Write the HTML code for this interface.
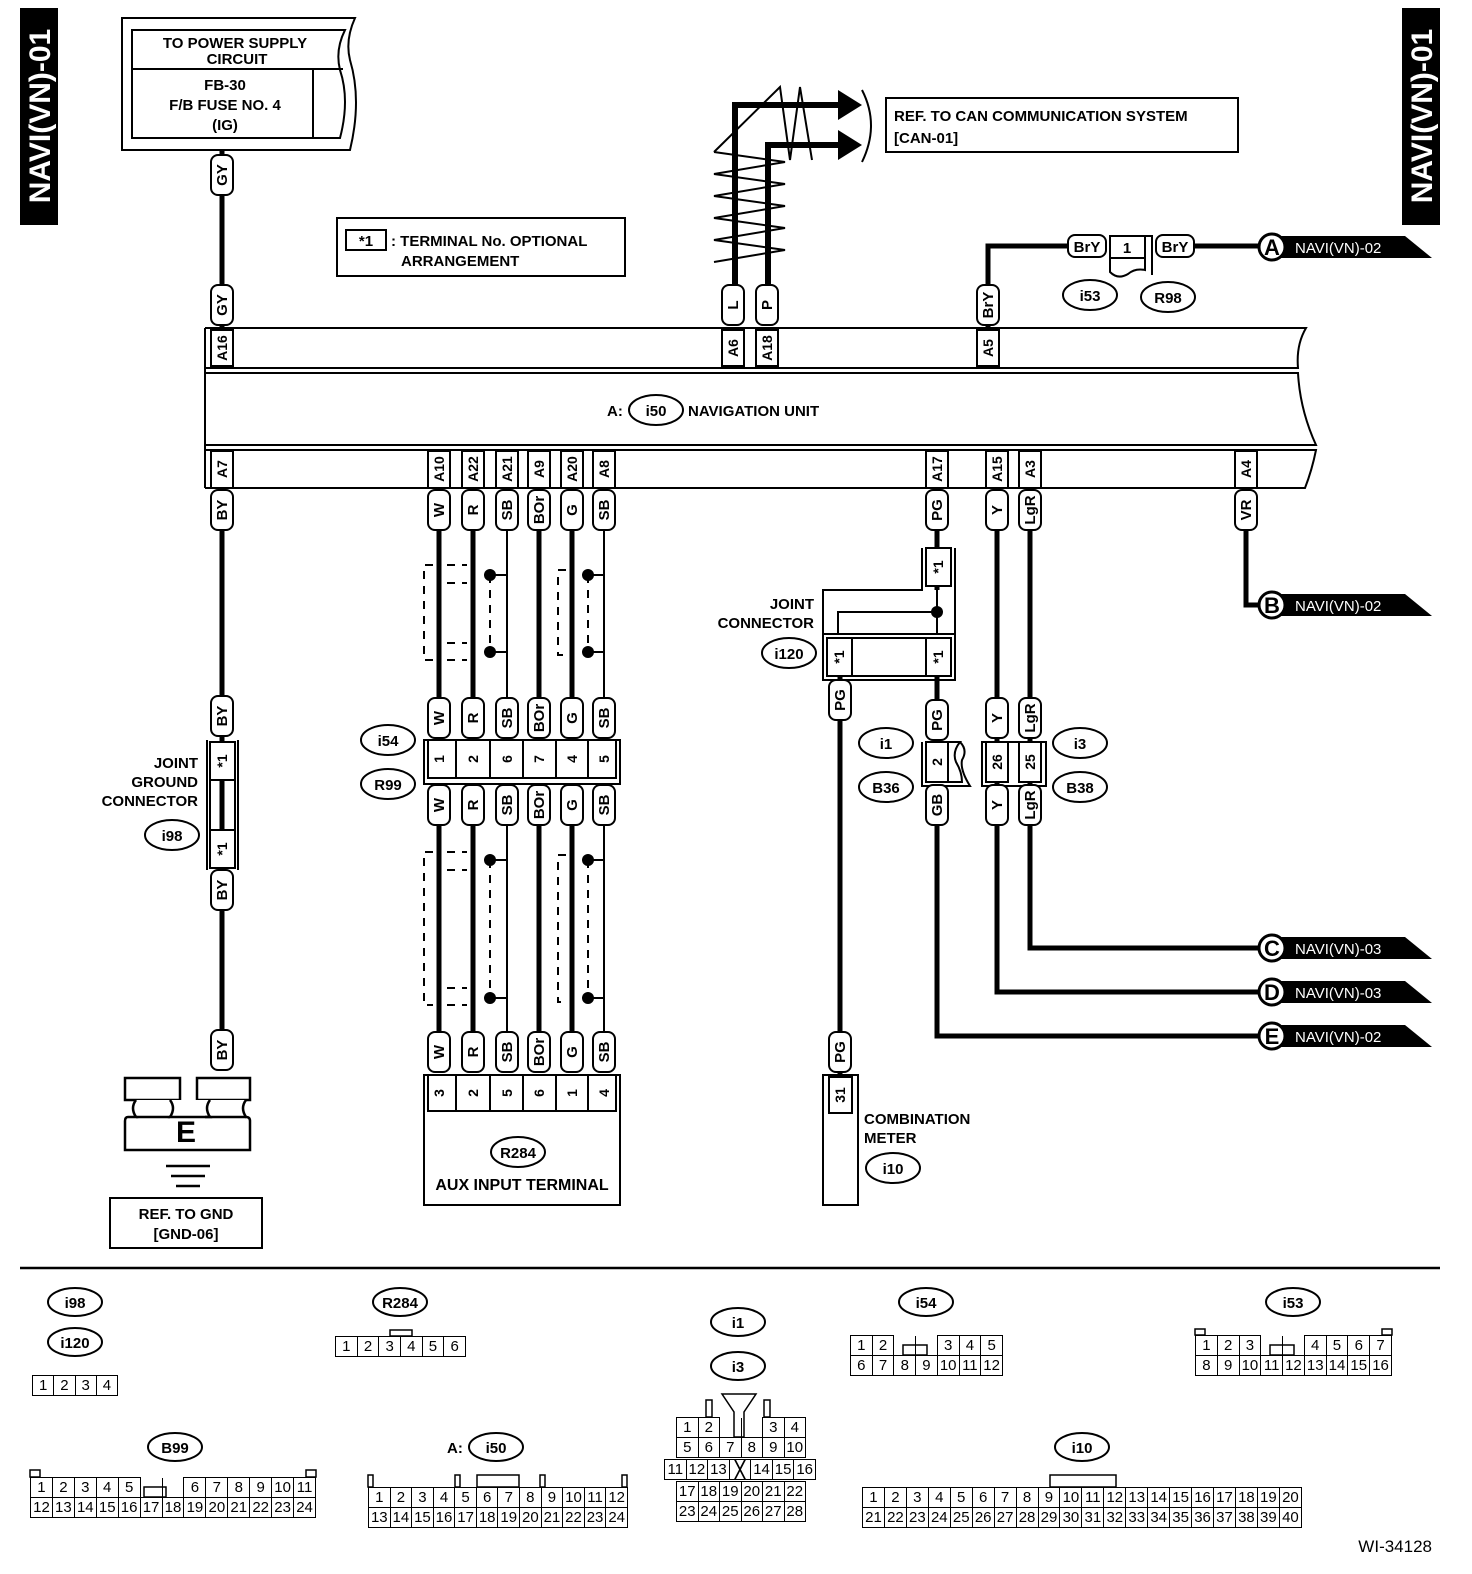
<!DOCTYPE html>
<html><head><meta charset="utf-8">
<style>
html,body{margin:0;padding:0;background:#fff}
#w{position:relative;width:1472px;height:1574px;overflow:hidden;font-family:"Liberation Sans",Arial,sans-serif}
svg{position:absolute;left:0;top:0}
svg text{font-family:"Liberation Sans",Arial,sans-serif;font-weight:bold;fill:#000}
.p rect{fill:#fff;stroke:#000;stroke-width:2}
.p text{font-size:15px;text-anchor:middle}
.t text{font-size:14px;text-anchor:middle}
.e{fill:#fff;stroke:#000;stroke-width:2}
.lb{font-size:15px}
.ct{font-size:15px;text-anchor:middle}
table{position:absolute;border-collapse:collapse;table-layout:fixed;font-family:"Liberation Sans",Arial,sans-serif;font-size:15px}
td{border:1.5px solid #000;padding:0;text-align:center;height:19px;line-height:19px;overflow:hidden}
td.g{border-top:none}
</style></head><body><div id="w">
<svg width="1472" height="1574" viewBox="0 0 1472 1574">
<rect x="20" y="8" width="38" height="217" fill="#000"/>
<text transform="translate(50,116) rotate(-90)" text-anchor="middle" style="font-size:30px;fill:#fff">NAVI(VN)-01</text>
<rect x="1402" y="8" width="38" height="217" fill="#000"/>
<text transform="translate(1432,116) rotate(-90)" text-anchor="middle" style="font-size:30px;fill:#fff">NAVI(VN)-01</text>

<path d="M122 18 H355 Q345 40 350 60 Q362 100 350 150 H122 Z" fill="none" stroke="#000" stroke-width="2"/>
<path d="M132 30 H345 Q335 50 340 70 Q350 100 340 138 H132 Z" fill="none" stroke="#000" stroke-width="2"/>
<line x1="132" y1="69" x2="343" y2="69" stroke="#000" stroke-width="2"/>
<line x1="313" y1="69" x2="313" y2="138" stroke="#000" stroke-width="2"/>
<text x="235" y="48" class="ct">TO POWER SUPPLY</text>
<text x="237" y="64" class="ct">CIRCUIT</text>
<text x="225" y="90" class="ct">FB-30</text>
<text x="225" y="110" class="ct">F/B FUSE NO. 4</text>
<text x="225" y="130" class="ct">(IG)</text>

<rect x="337" y="218" width="288" height="58" fill="none" stroke="#000" stroke-width="2"/>
<rect x="346" y="230" width="40" height="20" fill="none" stroke="#000" stroke-width="2"/>
<text x="366" y="246" class="ct">*1</text>
<text x="391" y="246" class="lb">: TERMINAL No. OPTIONAL</text>
<text x="401" y="266" class="lb">ARRANGEMENT</text>

<rect x="886" y="98" width="352" height="54" fill="none" stroke="#000" stroke-width="2"/>
<text x="894" y="121" class="lb">REF. TO CAN COMMUNICATION SYSTEM</text>
<text x="894" y="143" class="lb">[CAN-01]</text>

<g stroke="#000" fill="none">
<polyline points="735,288 735,105 842,105" stroke-width="6"/>
<polyline points="768,288 768,145 842,145" stroke-width="6"/>
<polyline stroke-width="2" points="714,262 785,250 714,240 785,228 714,218 785,206 714,196 785,184 714,174 785,162 714,152"/>
<polyline stroke-width="2" points="714,152 780,87 790,160 800,87 812,160"/>
<path d="M862 90 Q880 125 862 162" stroke-width="2"/>
</g>
<polygon points="838,90 862,105 838,120" fill="#000"/>
<polygon points="838,130 862,145 838,160" fill="#000"/>

<g stroke="#000" fill="none" stroke-width="5">
<line x1="222" y1="150" x2="222" y2="330"/>
<polyline points="988,330 988,246 1070,246"/>
<line x1="1195" y1="246" x2="1258" y2="246"/>
<line x1="222" y1="490" x2="222" y2="1040"/>
<line x1="439" y1="490" x2="439" y2="1040"/>
<line x1="473" y1="490" x2="473" y2="1040"/>
<line x1="539" y1="490" x2="539" y2="1040"/>
<line x1="572" y1="490" x2="572" y2="1040"/>
<line x1="937" y1="490" x2="937" y2="590"/>
<line x1="937" y1="676" x2="937" y2="742"/>
<polyline points="937,825 937,1036 1258,1036"/>
<line x1="840" y1="676" x2="840" y2="1075"/>
<polyline points="997,490 997,992 1258,992"/>
<polyline points="1030,490 1030,948 1258,948"/>
<polyline points="1246,490 1246,605 1258,605"/>
</g>
<g stroke="#000" fill="none" stroke-width="2">
<polyline points="507,490 507,575 490,575"/><polyline points="507,575 507,652 490,652"/><line x1="507" y1="652" x2="507" y2="700"/>
<polyline points="604,490 604,575 588,575"/><polyline points="604,575 604,652 588,652"/><line x1="604" y1="652" x2="604" y2="700"/>
<polyline points="507,825 507,860 490,860"/><polyline points="507,860 507,998 490,998"/><line x1="507" y1="998" x2="507" y2="1032"/>
<polyline points="604,825 604,860 588,860"/><polyline points="604,860 604,998 588,998"/><line x1="604" y1="998" x2="604" y2="1032"/>
</g>
<g stroke="#000" fill="none" stroke-width="2" stroke-dasharray="8,7">
<polyline points="433,565 424,565 424,660 433,660"/>
<line x1="447" y1="565" x2="467" y2="565"/><line x1="447" y1="583" x2="467" y2="583"/>
<line x1="447" y1="643" x2="467" y2="643"/><line x1="447" y1="660" x2="467" y2="660"/>
<line x1="490" y1="575" x2="490" y2="652"/>
<polyline points="566,570 558,570 558,655 566,655"/>
<line x1="588" y1="575" x2="588" y2="652"/>
<polyline points="433,852 424,852 424,1005 433,1005"/>
<line x1="447" y1="852" x2="467" y2="852"/><line x1="447" y1="870" x2="467" y2="870"/>
<line x1="447" y1="988" x2="467" y2="988"/><line x1="447" y1="1005" x2="467" y2="1005"/>
<line x1="490" y1="860" x2="490" y2="998"/>
<polyline points="566,855 558,855 558,1002 566,1002"/>
<line x1="588" y1="860" x2="588" y2="998"/>
</g>
<g fill="#000">
<circle cx="490" cy="575" r="6"/><circle cx="490" cy="652" r="6"/><circle cx="588" cy="575" r="6"/><circle cx="588" cy="652" r="6"/>
<circle cx="490" cy="860" r="6"/><circle cx="490" cy="998" r="6"/><circle cx="588" cy="860" r="6"/><circle cx="588" cy="998" r="6"/>
<circle cx="937" cy="612" r="6"/>
</g>

<g stroke="#000" stroke-width="2" fill="none">
<path d="M205 328 H1306 Q1296 345 1298 368 H205"/>
<path d="M205 373 H1298 Q1300 410 1316 445 H205 Z"/>
<path d="M205 450 H1316 Q1312 470 1305 488 H205"/>
<line x1="205" y1="328" x2="205" y2="488"/>
</g>
<text x="607" y="416" class="lb">A:</text>
<ellipse cx="656" cy="410" rx="27" ry="15" class="e"/><text x="656" y="416" class="ct">i50</text>
<text x="688" y="416" class="lb">NAVIGATION UNIT</text>

<g class="t" stroke="#000" stroke-width="2">
<g transform="translate(222,348)"><rect x="-11" y="-18" width="22" height="36" fill="#fff"/><text transform="rotate(-90)" y="5" stroke="none">A16</text></g>
<g transform="translate(733,348)"><rect x="-11" y="-18" width="22" height="36" fill="#fff"/><text transform="rotate(-90)" y="5" stroke="none">A6</text></g>
<g transform="translate(767,348)"><rect x="-11" y="-18" width="22" height="36" fill="#fff"/><text transform="rotate(-90)" y="5" stroke="none">A18</text></g>
<g transform="translate(988,348)"><rect x="-11" y="-18" width="22" height="36" fill="#fff"/><text transform="rotate(-90)" y="5" stroke="none">A5</text></g>
<g transform="translate(222,469)"><rect x="-11" y="-18" width="22" height="37" fill="#fff"/><text transform="rotate(-90)" y="5" stroke="none">A7</text></g>
<g transform="translate(439,469)"><rect x="-11" y="-18" width="22" height="37" fill="#fff"/><text transform="rotate(-90)" y="5" stroke="none">A10</text></g>
<g transform="translate(473,469)"><rect x="-11" y="-18" width="22" height="37" fill="#fff"/><text transform="rotate(-90)" y="5" stroke="none">A22</text></g>
<g transform="translate(507,469)"><rect x="-11" y="-18" width="22" height="37" fill="#fff"/><text transform="rotate(-90)" y="5" stroke="none">A21</text></g>
<g transform="translate(539,469)"><rect x="-11" y="-18" width="22" height="37" fill="#fff"/><text transform="rotate(-90)" y="5" stroke="none">A9</text></g>
<g transform="translate(572,469)"><rect x="-11" y="-18" width="22" height="37" fill="#fff"/><text transform="rotate(-90)" y="5" stroke="none">A20</text></g>
<g transform="translate(604,469)"><rect x="-11" y="-18" width="22" height="37" fill="#fff"/><text transform="rotate(-90)" y="5" stroke="none">A8</text></g>
<g transform="translate(937,469)"><rect x="-11" y="-18" width="22" height="37" fill="#fff"/><text transform="rotate(-90)" y="5" stroke="none">A17</text></g>
<g transform="translate(997,469)"><rect x="-11" y="-18" width="22" height="37" fill="#fff"/><text transform="rotate(-90)" y="5" stroke="none">A15</text></g>
<g transform="translate(1030,469)"><rect x="-11" y="-18" width="22" height="37" fill="#fff"/><text transform="rotate(-90)" y="5" stroke="none">A3</text></g>
<g transform="translate(1246,469)"><rect x="-11" y="-18" width="22" height="37" fill="#fff"/><text transform="rotate(-90)" y="5" stroke="none">A4</text></g>
</g>

<g stroke="#000" stroke-width="2" fill="#fff">
<rect x="424" y="740" width="196" height="44"/>
<rect x="428" y="740" width="188" height="38"/>
<rect x="424" y="1075" width="196" height="130"/>
<rect x="428" y="1075" width="188" height="36"/>
<line x1="207" y1="740" x2="207" y2="870"/><line x1="238" y1="740" x2="238" y2="870"/>
<rect x="210" y="742" width="25" height="38"/><rect x="210" y="830" width="25" height="38"/>
<line x1="222" y1="780" x2="222" y2="830"/>
<line x1="210" y1="780" x2="210" y2="830"/><line x1="235" y1="780" x2="235" y2="830"/>
<polyline points="922,548 922,590 823,590 823,680 955,680 955,548" fill="none"/>
<rect x="926" y="548" width="25" height="38"/>
<line x1="823" y1="634" x2="955" y2="634"/>
<polyline points="838,634 838,612 937,612" fill="none"/>
<line x1="937" y1="590" x2="937" y2="634"/>
<rect x="827" y="638" width="25" height="38"/><rect x="926" y="638" width="25" height="38"/>
<line x1="852" y1="638" x2="926" y2="638"/><line x1="852" y1="676" x2="926" y2="676"/>
<path d="M922 742 V786 H970 Q960 770 962 760 Q968 750 960 742" fill="none"/>
<rect x="926" y="742" width="22" height="40"/>
<path d="M948 742 H960 Q952 752 956 762 Q962 772 962 782 H948 Z"/>
<rect x="982" y="742" width="64" height="44" fill="none"/>
<rect x="986" y="742" width="22" height="40"/><rect x="1019" y="742" width="22" height="40"/>
<rect x="823" y="1075" width="35" height="130"/>
<rect x="829" y="1077" width="23" height="36"/>
<path d="M1110 236 H1152 V275" fill="none"/>
<path d="M1110 236 H1145 V270 Q1135 268 1128 274 Q1118 280 1110 272 Z"/>
<line x1="1110" y1="258" x2="1145" y2="258"/>
</g>
<g class="t">
<text transform="translate(439,759) rotate(-90)" y="5">1</text>
<text transform="translate(473,759) rotate(-90)" y="5">2</text>
<text transform="translate(507,759) rotate(-90)" y="5">6</text>
<text transform="translate(539,759) rotate(-90)" y="5">7</text>
<text transform="translate(572,759) rotate(-90)" y="5">4</text>
<text transform="translate(604,759) rotate(-90)" y="5">5</text>
<text transform="translate(439,1093) rotate(-90)" y="5">3</text>
<text transform="translate(473,1093) rotate(-90)" y="5">2</text>
<text transform="translate(507,1093) rotate(-90)" y="5">5</text>
<text transform="translate(539,1093) rotate(-90)" y="5">6</text>
<text transform="translate(572,1093) rotate(-90)" y="5">1</text>
<text transform="translate(604,1093) rotate(-90)" y="5">4</text>
<text transform="translate(222,761) rotate(-90)" y="5">*1</text>
<text transform="translate(222,849) rotate(-90)" y="5">*1</text>
<text transform="translate(938,567) rotate(-90)" y="5">*1</text>
<text transform="translate(839,657) rotate(-90)" y="5">*1</text>
<text transform="translate(938,657) rotate(-90)" y="5">*1</text>
<text transform="translate(937,762) rotate(-90)" y="5">2</text>
<text transform="translate(997,762) rotate(-90)" y="5">26</text>
<text transform="translate(1030,762) rotate(-90)" y="5">25</text>
<text transform="translate(840,1095) rotate(-90)" y="5">31</text>
</g>
<g stroke="#000" stroke-width="2">
<line x1="456" y1="740" x2="456" y2="778"/><line x1="490" y1="740" x2="490" y2="778"/><line x1="523" y1="740" x2="523" y2="778"/><line x1="556" y1="740" x2="556" y2="778"/><line x1="588" y1="740" x2="588" y2="778"/>
<line x1="456" y1="1075" x2="456" y2="1111"/><line x1="490" y1="1075" x2="490" y2="1111"/><line x1="523" y1="1075" x2="523" y2="1111"/><line x1="556" y1="1075" x2="556" y2="1111"/><line x1="588" y1="1075" x2="588" y2="1111"/>
</g>
<text x="1127" y="253" class="ct">1</text>

<g class="p">
<g transform="translate(222,175)"><rect x="-11" y="-20" width="22" height="40" rx="7"/><text transform="rotate(-90)" y="5">GY</text></g>
<g transform="translate(222,305)"><rect x="-11" y="-20" width="22" height="40" rx="7"/><text transform="rotate(-90)" y="5">GY</text></g>
<g transform="translate(733,305)"><rect x="-11" y="-20" width="22" height="40" rx="7"/><text transform="rotate(-90)" y="5">L</text></g>
<g transform="translate(767,305)"><rect x="-11" y="-20" width="22" height="40" rx="7"/><text transform="rotate(-90)" y="5">P</text></g>
<g transform="translate(988,305)"><rect x="-11" y="-20" width="22" height="40" rx="7"/><text transform="rotate(-90)" y="5">BrY</text></g>
<g transform="translate(1087,246)"><rect x="-19" y="-11" width="38" height="22" rx="7"/><text y="6">BrY</text></g>
<g transform="translate(1175,246)"><rect x="-19" y="-11" width="38" height="22" rx="7"/><text y="6">BrY</text></g>

<g transform="translate(222,510)"><rect x="-11" y="-20" width="22" height="40" rx="7"/><text transform="rotate(-90)" y="5">BY</text></g>
<g transform="translate(439,510)"><rect x="-11" y="-20" width="22" height="40" rx="7"/><text transform="rotate(-90)" y="5">W</text></g>
<g transform="translate(473,510)"><rect x="-11" y="-20" width="22" height="40" rx="7"/><text transform="rotate(-90)" y="5">R</text></g>
<g transform="translate(507,510)"><rect x="-11" y="-20" width="22" height="40" rx="7"/><text transform="rotate(-90)" y="5">SB</text></g>
<g transform="translate(539,510)"><rect x="-11" y="-20" width="22" height="40" rx="7"/><text transform="rotate(-90)" y="5">BOr</text></g>
<g transform="translate(572,510)"><rect x="-11" y="-20" width="22" height="40" rx="7"/><text transform="rotate(-90)" y="5">G</text></g>
<g transform="translate(604,510)"><rect x="-11" y="-20" width="22" height="40" rx="7"/><text transform="rotate(-90)" y="5">SB</text></g>
<g transform="translate(937,510)"><rect x="-11" y="-20" width="22" height="40" rx="7"/><text transform="rotate(-90)" y="5">PG</text></g>
<g transform="translate(997,510)"><rect x="-11" y="-20" width="22" height="40" rx="7"/><text transform="rotate(-90)" y="5">Y</text></g>
<g transform="translate(1030,510)"><rect x="-11" y="-20" width="22" height="40" rx="7"/><text transform="rotate(-90)" y="5">LgR</text></g>
<g transform="translate(1246,510)"><rect x="-11" y="-20" width="22" height="40" rx="7"/><text transform="rotate(-90)" y="5">VR</text></g>

<g transform="translate(222,716)"><rect x="-11" y="-20" width="22" height="40" rx="7"/><text transform="rotate(-90)" y="5">BY</text></g>
<g transform="translate(439,718)"><rect x="-11" y="-20" width="22" height="40" rx="7"/><text transform="rotate(-90)" y="5">W</text></g>
<g transform="translate(473,718)"><rect x="-11" y="-20" width="22" height="40" rx="7"/><text transform="rotate(-90)" y="5">R</text></g>
<g transform="translate(507,718)"><rect x="-11" y="-20" width="22" height="40" rx="7"/><text transform="rotate(-90)" y="5">SB</text></g>
<g transform="translate(539,718)"><rect x="-11" y="-20" width="22" height="40" rx="7"/><text transform="rotate(-90)" y="5">BOr</text></g>
<g transform="translate(572,718)"><rect x="-11" y="-20" width="22" height="40" rx="7"/><text transform="rotate(-90)" y="5">G</text></g>
<g transform="translate(604,718)"><rect x="-11" y="-20" width="22" height="40" rx="7"/><text transform="rotate(-90)" y="5">SB</text></g>
<g transform="translate(840,700)"><rect x="-11" y="-20" width="22" height="40" rx="7"/><text transform="rotate(-90)" y="5">PG</text></g>
<g transform="translate(937,720)"><rect x="-11" y="-20" width="22" height="40" rx="7"/><text transform="rotate(-90)" y="5">PG</text></g>
<g transform="translate(997,718)"><rect x="-11" y="-20" width="22" height="40" rx="7"/><text transform="rotate(-90)" y="5">Y</text></g>
<g transform="translate(1030,718)"><rect x="-11" y="-20" width="22" height="40" rx="7"/><text transform="rotate(-90)" y="5">LgR</text></g>

<g transform="translate(439,805)"><rect x="-11" y="-20" width="22" height="40" rx="7"/><text transform="rotate(-90)" y="5">W</text></g>
<g transform="translate(473,805)"><rect x="-11" y="-20" width="22" height="40" rx="7"/><text transform="rotate(-90)" y="5">R</text></g>
<g transform="translate(507,805)"><rect x="-11" y="-20" width="22" height="40" rx="7"/><text transform="rotate(-90)" y="5">SB</text></g>
<g transform="translate(539,805)"><rect x="-11" y="-20" width="22" height="40" rx="7"/><text transform="rotate(-90)" y="5">BOr</text></g>
<g transform="translate(572,805)"><rect x="-11" y="-20" width="22" height="40" rx="7"/><text transform="rotate(-90)" y="5">G</text></g>
<g transform="translate(604,805)"><rect x="-11" y="-20" width="22" height="40" rx="7"/><text transform="rotate(-90)" y="5">SB</text></g>
<g transform="translate(937,805)"><rect x="-11" y="-20" width="22" height="40" rx="7"/><text transform="rotate(-90)" y="5">GB</text></g>
<g transform="translate(997,805)"><rect x="-11" y="-20" width="22" height="40" rx="7"/><text transform="rotate(-90)" y="5">Y</text></g>
<g transform="translate(1030,805)"><rect x="-11" y="-20" width="22" height="40" rx="7"/><text transform="rotate(-90)" y="5">LgR</text></g>
<g transform="translate(222,890)"><rect x="-11" y="-20" width="22" height="40" rx="7"/><text transform="rotate(-90)" y="5">BY</text></g>

<g transform="translate(222,1050)"><rect x="-11" y="-20" width="22" height="40" rx="7"/><text transform="rotate(-90)" y="5">BY</text></g>
<g transform="translate(439,1052)"><rect x="-11" y="-20" width="22" height="40" rx="7"/><text transform="rotate(-90)" y="5">W</text></g>
<g transform="translate(473,1052)"><rect x="-11" y="-20" width="22" height="40" rx="7"/><text transform="rotate(-90)" y="5">R</text></g>
<g transform="translate(507,1052)"><rect x="-11" y="-20" width="22" height="40" rx="7"/><text transform="rotate(-90)" y="5">SB</text></g>
<g transform="translate(539,1052)"><rect x="-11" y="-20" width="22" height="40" rx="7"/><text transform="rotate(-90)" y="5">BOr</text></g>
<g transform="translate(572,1052)"><rect x="-11" y="-20" width="22" height="40" rx="7"/><text transform="rotate(-90)" y="5">G</text></g>
<g transform="translate(604,1052)"><rect x="-11" y="-20" width="22" height="40" rx="7"/><text transform="rotate(-90)" y="5">SB</text></g>
<g transform="translate(840,1052)"><rect x="-11" y="-20" width="22" height="40" rx="7"/><text transform="rotate(-90)" y="5">PG</text></g>
</g>

<text x="198" y="768" class="lb" text-anchor="end">JOINT</text>
<text x="198" y="787" class="lb" text-anchor="end">GROUND</text>
<text x="198" y="806" class="lb" text-anchor="end">CONNECTOR</text>
<text x="814" y="609" class="lb" text-anchor="end">JOINT</text>
<text x="814" y="628" class="lb" text-anchor="end">CONNECTOR</text>
<text x="864" y="1124" class="lb">COMBINATION</text>
<text x="864" y="1143" class="lb">METER</text>
<text x="522" y="1190" class="ct" style="font-size:16px">AUX INPUT TERMINAL</text>
<g>
<ellipse cx="1090" cy="295" rx="27" ry="15" class="e"/><text x="1090" y="301" class="ct">i53</text>
<ellipse cx="1168" cy="297" rx="27" ry="15" class="e"/><text x="1168" y="303" class="ct">R98</text>
<ellipse cx="172" cy="835" rx="27" ry="15" class="e"/><text x="172" y="841" class="ct">i98</text>
<ellipse cx="388" cy="740" rx="27" ry="15" class="e"/><text x="388" y="746" class="ct">i54</text>
<ellipse cx="388" cy="784" rx="27" ry="15" class="e"/><text x="388" y="790" class="ct">R99</text>
<ellipse cx="789" cy="653" rx="27" ry="15" class="e"/><text x="789" y="659" class="ct">i120</text>
<ellipse cx="886" cy="743" rx="27" ry="15" class="e"/><text x="886" y="749" class="ct">i1</text>
<ellipse cx="886" cy="787" rx="27" ry="15" class="e"/><text x="886" y="793" class="ct">B36</text>
<ellipse cx="1080" cy="743" rx="27" ry="15" class="e"/><text x="1080" y="749" class="ct">i3</text>
<ellipse cx="1080" cy="787" rx="27" ry="15" class="e"/><text x="1080" y="793" class="ct">B38</text>
<ellipse cx="518" cy="1152" rx="27" ry="15" class="e"/><text x="518" y="1158" class="ct">R284</text>
<ellipse cx="893" cy="1168" rx="27" ry="15" class="e"/><text x="893" y="1174" class="ct">i10</text>
</g>

<g>
<polygon points="1272,236 1405,236 1432,258 1272,258" fill="#000"/>
<circle cx="1272" cy="247" r="13" fill="#fff" stroke="#000" stroke-width="3"/><text x="1272" y="255" class="ct" style="font-size:22px">A</text>
<text x="1295" y="253" style="font-size:15px;font-weight:normal;fill:#fff">NAVI(VN)-02</text>
<polygon points="1272,594 1405,594 1432,616 1272,616" fill="#000"/>
<circle cx="1272" cy="605" r="13" fill="#fff" stroke="#000" stroke-width="3"/><text x="1272" y="613" class="ct" style="font-size:22px">B</text>
<text x="1295" y="611" style="font-size:15px;font-weight:normal;fill:#fff">NAVI(VN)-02</text>
<polygon points="1272,937 1405,937 1432,959 1272,959" fill="#000"/>
<circle cx="1272" cy="948" r="13" fill="#fff" stroke="#000" stroke-width="3"/><text x="1272" y="956" class="ct" style="font-size:22px">C</text>
<text x="1295" y="954" style="font-size:15px;font-weight:normal;fill:#fff">NAVI(VN)-03</text>
<polygon points="1272,981 1405,981 1432,1003 1272,1003" fill="#000"/>
<circle cx="1272" cy="992" r="13" fill="#fff" stroke="#000" stroke-width="3"/><text x="1272" y="1000" class="ct" style="font-size:22px">D</text>
<text x="1295" y="998" style="font-size:15px;font-weight:normal;fill:#fff">NAVI(VN)-03</text>
<polygon points="1272,1025 1405,1025 1432,1047 1272,1047" fill="#000"/>
<circle cx="1272" cy="1036" r="13" fill="#fff" stroke="#000" stroke-width="3"/><text x="1272" y="1044" class="ct" style="font-size:22px">E</text>
<text x="1295" y="1042" style="font-size:15px;font-weight:normal;fill:#fff">NAVI(VN)-02</text>
</g>

<g stroke="#000" stroke-width="2.5" fill="#fff">
<rect x="125" y="1078" width="55" height="22"/><rect x="197" y="1078" width="53" height="22"/>
<path d="M136 1100 Q130 1108 136 1117 H128 Q125 1117 125 1121 V1150 H250 V1121 Q250 1117 246 1117 Q240 1108 246 1100"/>
<path d="M170 1100 Q176 1108 170 1117 H210 Q204 1108 210 1100"/>
<path d="M205 1117 H246"/>
<path d="M136 1117 H170"/>
</g>
<text x="186" y="1142" class="ct" style="font-size:30px">E</text>
<g stroke="#000" stroke-width="2.5">
<line x1="166" y1="1166" x2="210" y2="1166"/><line x1="171" y1="1176" x2="205" y2="1176"/><line x1="176" y1="1186" x2="200" y2="1186"/>
</g>
<rect x="110" y="1198" width="152" height="50" fill="none" stroke="#000" stroke-width="2"/>
<text x="186" y="1219" class="ct">REF. TO GND</text>
<text x="186" y="1239" class="ct">[GND-06]</text>

<line x1="20" y1="1268" x2="1440" y2="1268" stroke="#000" stroke-width="2.5"/>

<g>
<ellipse cx="75" cy="1302" rx="27" ry="14" class="e"/><text x="75" y="1308" class="ct">i98</text>
<ellipse cx="75" cy="1342" rx="27" ry="14" class="e"/><text x="75" y="1348" class="ct">i120</text>
<ellipse cx="400" cy="1302" rx="27" ry="14" class="e"/><text x="400" y="1308" class="ct">R284</text>
<ellipse cx="738" cy="1322" rx="27" ry="14" class="e"/><text x="738" y="1328" class="ct">i1</text>
<ellipse cx="738" cy="1366" rx="27" ry="14" class="e"/><text x="738" y="1372" class="ct">i3</text>
<ellipse cx="926" cy="1302" rx="27" ry="14" class="e"/><text x="926" y="1308" class="ct">i54</text>
<ellipse cx="1293" cy="1302" rx="27" ry="14" class="e"/><text x="1293" y="1308" class="ct">i53</text>
<ellipse cx="175" cy="1447" rx="27" ry="14" class="e"/><text x="175" y="1453" class="ct">B99</text>
<text x="447" y="1453" class="lb">A:</text>
<ellipse cx="496" cy="1447" rx="27" ry="14" class="e"/><text x="496" y="1453" class="ct">i50</text>
<ellipse cx="1082" cy="1447" rx="27" ry="14" class="e"/><text x="1082" y="1453" class="ct">i10</text>
</g>
<g stroke="#000" stroke-width="1.5" fill="none">
<rect x="390" y="1330" width="22" height="6"/>
<rect x="903" y="1345" width="24" height="10"/>
<rect x="1270" y="1345" width="24" height="10"/>
<rect x="1195" y="1329" width="10" height="6"/><rect x="1382" y="1329" width="10" height="6"/>
<rect x="30" y="1470" width="10" height="7"/><rect x="306" y="1470" width="10" height="7"/>
<rect x="144" y="1487" width="22" height="10"/>
<rect x="368" y="1475" width="5" height="12"/><rect x="455" y="1475" width="5" height="12"/><rect x="540" y="1475" width="5" height="12"/><rect x="622" y="1475" width="5" height="12"/>
<rect x="477" y="1475" width="42" height="12"/>
<rect x="1050" y="1475" width="66" height="12"/>
<rect x="706" y="1400" width="6" height="17"/><rect x="764" y="1400" width="6" height="17"/>
<path d="M722 1394 H756 L744 1412 V1437 H734 V1412 Z"/>
</g>
<text x="1432" y="1552" style="font-size:17px;font-weight:normal" text-anchor="end">WI-34128</text>
</svg>

<table style="left:32px;top:1375px;width:86px"><tr><td>1</td><td>2</td><td>3</td><td>4</td></tr></table>
<table style="left:335px;top:1336px;width:131px"><tr><td>1</td><td>2</td><td>3</td><td>4</td><td>5</td><td>6</td></tr></table>
<table style="left:850px;top:1335px;width:153px"><tr><td>1</td><td>2</td><td class="g"></td><td class="g"></td><td>3</td><td>4</td><td>5</td></tr>
<tr><td>6</td><td>7</td><td>8</td><td>9</td><td>10</td><td>11</td><td>12</td></tr></table>
<table style="left:1195px;top:1335px;width:197px"><tr><td>1</td><td>2</td><td>3</td><td class="g"></td><td class="g"></td><td>4</td><td>5</td><td>6</td><td>7</td></tr>
<tr><td>8</td><td>9</td><td>10</td><td>11</td><td>12</td><td>13</td><td>14</td><td>15</td><td>16</td></tr></table>
<table style="left:30px;top:1477px;width:286px"><tr><td>1</td><td>2</td><td>3</td><td>4</td><td>5</td><td class="g"></td><td class="g"></td><td>6</td><td>7</td><td>8</td><td>9</td><td>10</td><td>11</td></tr>
<tr><td>12</td><td>13</td><td>14</td><td>15</td><td>16</td><td>17</td><td>18</td><td>19</td><td>20</td><td>21</td><td>22</td><td>23</td><td>24</td></tr></table>
<table style="left:368px;top:1487px;width:260px"><tr><td>1</td><td>2</td><td>3</td><td>4</td><td>5</td><td>6</td><td>7</td><td>8</td><td>9</td><td>10</td><td>11</td><td>12</td></tr>
<tr><td>13</td><td>14</td><td>15</td><td>16</td><td>17</td><td>18</td><td>19</td><td>20</td><td>21</td><td>22</td><td>23</td><td>24</td></tr></table>
<table style="left:862px;top:1487px;width:440px"><tr><td>1</td><td>2</td><td>3</td><td>4</td><td>5</td><td>6</td><td>7</td><td>8</td><td>9</td><td>10</td><td>11</td><td>12</td><td>13</td><td>14</td><td>15</td><td>16</td><td>17</td><td>18</td><td>19</td><td>20</td></tr>
<tr><td>21</td><td>22</td><td>23</td><td>24</td><td>25</td><td>26</td><td>27</td><td>28</td><td>29</td><td>30</td><td>31</td><td>32</td><td>33</td><td>34</td><td>35</td><td>36</td><td>37</td><td>38</td><td>39</td><td>40</td></tr></table>
<table style="left:676px;top:1417px;width:130px"><tr><td>1</td><td>2</td><td class="g" style="border-bottom:none"></td><td class="g" style="border-bottom:none"></td><td>3</td><td>4</td></tr>
<tr><td>5</td><td>6</td><td>7</td><td>8</td><td>9</td><td>10</td></tr></table>
<table style="left:664px;top:1459px;width:152px"><tr><td>11</td><td>12</td><td>13</td><td style="font-size:22px">&#x2573;</td><td>14</td><td>15</td><td>16</td></tr></table>
<table style="left:676px;top:1481px;width:130px"><tr><td>17</td><td>18</td><td>19</td><td>20</td><td>21</td><td>22</td></tr>
<tr><td>23</td><td>24</td><td>25</td><td>26</td><td>27</td><td>28</td></tr></table>
</div></body></html>
